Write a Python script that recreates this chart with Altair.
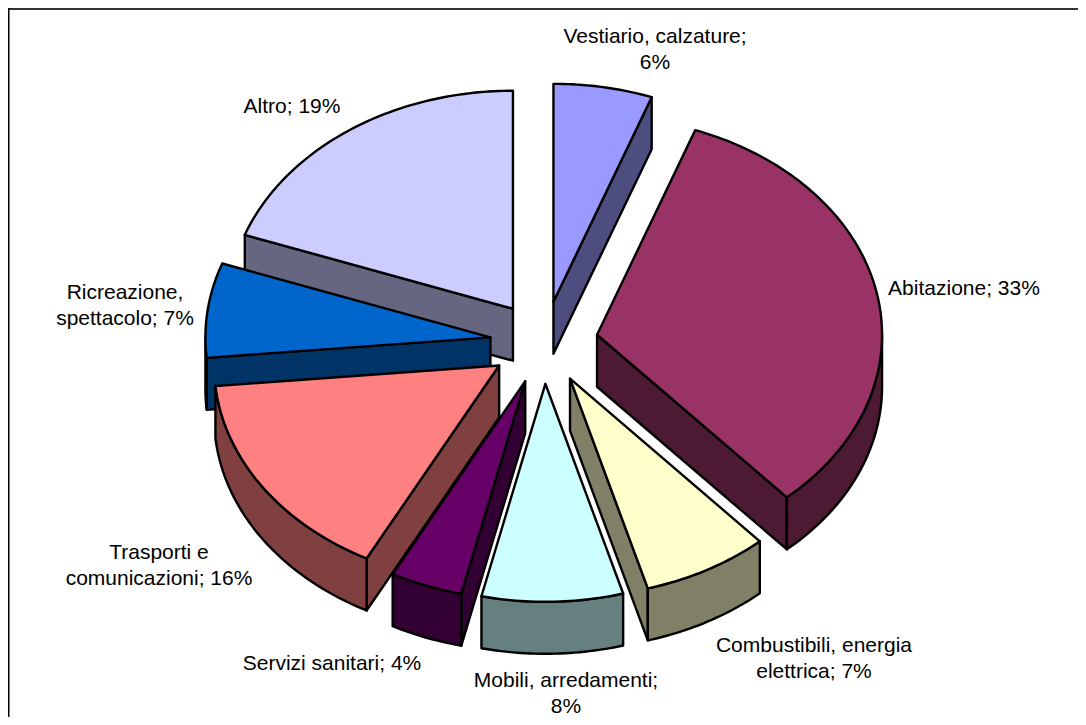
import math
import altair as alt

# Slice shares in percent, clockwise from twelve o'clock
categories = ["Vestiario, calzature", "Abitazione", "Combustibili, energia elettrica",
              "Mobili, arredamenti", "Servizi sanitari", "Trasporti e comunicazioni",
              "Ricreazione, spettacolo", "Altro"]
shares = [5.6, 32.8, 7.2, 8.0, 4.1, 15.8, 7.0, 19.5]
top_colors = ["#9999FF", "#993366", "#FFFFCC", "#CCFFFF", "#660066", "#FF8080", "#0066CC", "#CCCCFF"]
wall_colors = ["#4D4D80", "#4D1A33", "#808066", "#668080", "#330033", "#804040", "#003366", "#666680"]
paint_order = [7, 0, 1, 6, 5, 2, 4, 3]

label_lines = [["Vestiario, calzature;", "6%"], ["Abitazione; 33%"],
               ["Combustibili, energia", "elettrica; 7%"], ["Mobili, arredamenti;", "8%"],
               ["Servizi sanitari; 4%"], ["Trasporti e", "comunicazioni; 16%"],
               ["Ricreazione,", "spettacolo; 7%"], ["Altro; 19%"]]
label_x = [647, 956, 806, 558, 324, 151, 117, 284]
label_y = [18, 270, 627, 662, 645, 534, 274, 88]

# Pie geometry (page pixels minus the 8px margin)
CX, CY, RX, RY, DEPTH, EXPLODE = 536.0, 334.5, 285.0, 218.0, 52.0, 54.0
STEP = 1.0


def rim(apex, a, b):
    n = max(2, int(abs(b - a) / STEP) + 1)
    pts = []
    for i in range(n + 1):
        t = math.radians(a + (b - a) * i / n)
        pts.append((apex[0] + RX * math.sin(t), apex[1] - RY * math.cos(t)))
    return pts


def down(pts):
    return [(x, y + DEPTH) for x, y in pts]


def feature(ring, fill, kind):
    ring = [list(p) for p in ring]
    ring.append(ring[0])
    return {"type": "Feature", "properties": {"fill": fill, "kind": kind},
            "geometry": {"type": "Polygon", "coordinates": [ring]}}


total = sum(shares)
starts, acc = [], 0.0
for s in shares:
    starts.append(acc)
    acc += s / total * 360

features = []
for i in paint_order:
    a = starts[i]
    b = a + shares[i] / total * 360
    m = math.radians((a + b) / 2)
    apex = (CX + EXPLODE * math.sin(m), CY - EXPLODE * RY / RX * math.cos(m))
    arc = rim(apex, a, b)
    # radial faces turned towards the viewer
    if 0 < b < 180:
        e = arc[-1]
        features.append(feature([apex, e, (e[0], e[1] + DEPTH), (apex[0], apex[1] + DEPTH)], wall_colors[i], "wall"))
    if 180 < a < 360:
        e = arc[0]
        features.append(feature([apex, e, (e[0], e[1] + DEPTH), (apex[0], apex[1] + DEPTH)], wall_colors[i], "wall"))
    # outer rim on the near half
    lo, hi = max(a, 90), min(b, 270)
    if lo < hi:
        r = rim(apex, lo, hi)
        features.append(feature(r + down(r)[::-1], wall_colors[i], "wall"))
    features.append(feature([apex] + arc, top_colors[i], "top"))

W, H = 1070, 709
proj = alt.Projection(type="identity", scale=1, translate=[0, 0])

pie = alt.Chart(
    alt.InlineData(values={"type": "FeatureCollection", "features": features},
                   format=alt.DataFormat(property="features", type="json"))
).mark_geoshape(stroke="black", strokeWidth=2.4, strokeJoin="round").encode(
    fill=alt.Fill("properties.fill:N", scale=None)
).project(**proj.to_dict())

labels = alt.Chart(alt.Data(values=[
    {"cat": c, "lines": l, "x": x, "y": y}
    for c, l, x, y in zip(categories, label_lines, label_x, label_y)
])).mark_text(font="Liberation Sans", fontSize=21, color="black", align="center",
              baseline="top", lineHeight=26).encode(
    x=alt.X("x:Q", scale=alt.Scale(domain=[0, W], range=[0, W]), axis=None),
    y=alt.Y("y:Q", scale=alt.Scale(domain=[0, H], range=[0, H]), axis=None),
    text="lines:N",
)

frame_top = alt.Chart(alt.Data(values=[{"a": 0}])).mark_rule(color="#333333", strokeWidth=2).encode(
    x=alt.value(0), x2=alt.value(W), y=alt.value(1))
frame_left = alt.Chart(alt.Data(values=[{"a": 0}])).mark_rule(color="black", strokeWidth=1.5).encode(
    x=alt.value(0.75), y=alt.value(0), y2=alt.value(H))

chart = alt.layer(frame_top, frame_left, pie, labels).resolve_scale(x="independent", y="independent").properties(
    width=W, height=H, padding=0, autosize=alt.AutoSizeParams(type="none")
).configure_view(stroke=None)

chart.save("out.html", embed_options={"renderer": "svg", "actions": False})
